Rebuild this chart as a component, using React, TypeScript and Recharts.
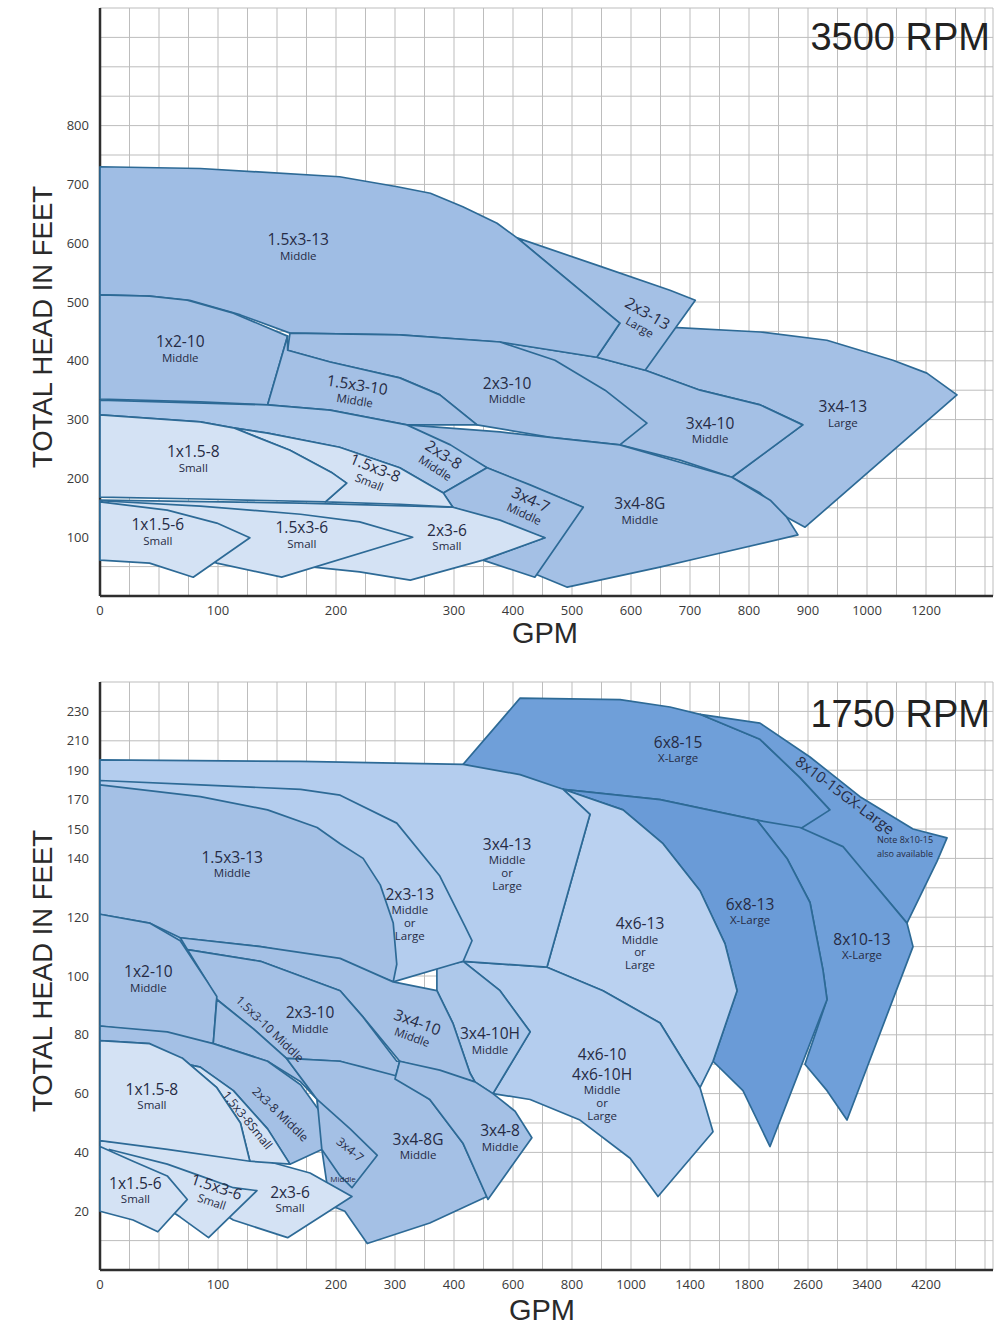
import React from 'react';
import { ScatterChart, Scatter, XAxis, YAxis, CartesianGrid } from 'recharts';

type Pt = [number, number];
interface Lbl { t: string[]; g: number; h: number; a?: number; fs?: number; ss?: number; n?: number }

// ---------- axis tick labels ----------
const topXTickGpm = [0, 100, 200, 300, 400, 500, 600, 700, 800, 900, 1000, 1200];
const topXTickCell = [0, 4, 8, 12, 14, 16, 18, 20, 22, 24, 26, 28];
const topYTickLabels = [100, 200, 300, 400, 500, 600, 700, 800];
const botXTickGpm = [0, 100, 200, 300, 400, 600, 800, 1000, 1400, 1800, 2600, 3400, 4200];
const botXTickCell = [0, 4, 8, 10, 12, 14, 16, 18, 20, 22, 24, 26, 28];
const botYTickFt = [20, 40, 60, 80, 100, 120, 140, 150, 170, 190, 210, 230];
const botYTickCell = [2, 4, 6, 8, 10, 12, 14, 15, 16, 17, 18, 19];

// ---------- 3500 RPM coverage areas (GPM, feet) ----------
const top_3x4_13: Pt[] = [[624,452],[671,457],[819,449],[932,435],[1088,401],[1203,379],[1305,342],[895,117],[864,134],[819,175],[771,202],[891,291],[819,325],[717,350],[624,384]];
const top_3x4_10: Pt[] = [[378,432],[542,406],[624,384],[717,350],[819,325],[891,291],[771,202],[683,231],[581,257]];
const top_2x3_13: Pt[] = [[407,609],[547,561],[666,520],[709,503],[624,384],[542,406],[581,464]];
const top_1_5x3_13: Pt[] = [[0,730],[85,727],[203,713],[252,696],[280,685],[315,662],[373,634],[407,609],[581,464],[542,406],[378,432],[254,444],[161,447],[119,478],[76,503],[42,510],[0,512]];
const top_2x3_10: Pt[] = [[161,447],[254,444],[378,432],[471,401],[556,350],[627,294],[581,257],[463,270],[339,291],[288,342],[254,371],[195,398],[159,418]];
const top_1x2_10: Pt[] = [[0,512],[42,510],[74,503],[113,481],[159,442],[142,325],[85,330],[0,335]];
const top_1_5x3_10: Pt[] = [[159,418],[195,398],[254,371],[288,342],[339,291],[260,291],[195,316],[142,325],[159,442]];
const top_3x4_8g: Pt[] = [[260,291],[378,279],[581,257],[771,202],[836,163],[864,134],[883,104],[717,65],[649,49],[492,15],[412,48],[519,151],[356,218]];
const top_2x3_8: Pt[] = [[0,333],[142,325],[195,316],[260,291],[297,257],[356,218],[291,175],[254,218],[203,253],[142,277],[113,286],[85,296],[0,308]];
const top_3x4_7: Pt[] = [[299,151],[291,175],[356,218],[429,189],[519,151],[437,32],[349,61],[454,99]];
const top_2x3_6: Pt[] = [[0,163],[170,158],[299,151],[378,129],[454,99],[349,61],[263,27],[220,41],[181,49],[170,95],[0,129]];
const top_1_5x3_8: Pt[] = [[113,286],[142,277],[203,253],[254,218],[291,175],[299,151],[254,156],[191,160],[209,192],[197,209],[161,248]];
const top_1x1_5_8: Pt[] = [[0,308],[85,296],[113,286],[161,248],[197,209],[209,192],[191,160],[85,165],[0,168]];
const top_1_5x3_6: Pt[] = [[0,162],[85,153],[170,139],[220,126],[265,100],[154,32],[99,56],[42,95]];
const top_1x1_5_6: Pt[] = [[0,160],[57,146],[99,124],[127,99],[79,32],[42,56],[0,61]];

// ---------- 1750 RPM coverage areas (GPM, feet) ----------
const bot_6x8_15: Pt[] = [[431,194],[624,239],[963,238],[1264,233],[1468,228],[1949,211],[2492,185],[2898,163],[3075,145],[1908,156],[1197,170],[770,177]];
const bot_8x10_15g: Pt[] = [[1468,228],[1949,222],[2627,199],[3305,172],[4024,150],[4485,147],[4349,139],[3942,118],[3441,133],[3075,143],[2492,150],[2898,163],[2492,185],[1949,211]];
const bot_8x10_13: Pt[] = [[1908,156],[2492,151],[3075,144],[3441,133],[3942,118],[4024,110],[3129,51],[2858,61],[2559,70],[2858,92],[2803,102],[2627,125],[2315,140]];
const bot_6x8_13: Pt[] = [[770,177],[1197,170],[1908,156],[2315,140],[2627,125],[2803,102],[2858,92],[2085,42],[1759,61],[1556,71],[1719,95],[1637,111],[1468,129],[1217,145],[973,163]];
const bot_4x6_13: Pt[] = [[770,177],[973,163],[1217,145],[1468,129],[1637,111],[1719,95],[1556,71],[1468,62],[1197,84],[905,95],[715,103],[861,160]];
const bot_4x6_10: Pt[] = [[431,105],[715,103],[905,95],[1197,84],[1468,62],[1556,47],[1183,25],[997,38],[827,51],[658,58],[532,60],[658,81],[556,95]];
const bot_3x4_13: Pt[] = [[0,197],[170,196],[431,194],[624,187],[770,177],[861,160],[715,103],[431,105],[342,101],[170,126],[0,126]];
const bot_3x4_10h: Pt[] = [[371,103],[431,105],[556,95],[658,81],[532,60],[471,64],[454,67],[398,84],[371,95]];
const bot_2x3_13: Pt[] = [[0,183],[85,180],[170,177],[207,173],[303,154],[376,134],[437,117],[461,112],[431,105],[297,98],[0,98]];
const bot_1_5x3_13: Pt[] = [[0,180],[85,172],[142,163],[184,151],[207,145],[246,140],[275,131],[297,118],[303,104],[297,98],[207,105],[136,110],[68,113],[42,118],[0,121]];
const bot_3x4_10: Pt[] = [[68,113],[136,110],[207,106],[297,98],[371,95],[398,84],[454,67],[471,64],[308,71],[246,86],[207,95],[136,105],[74,109]];
const bot_2x3_10: Pt[] = [[74,109],[136,105],[207,95],[246,86],[303,71],[308,71],[300,65],[207,71],[158,72],[130,82],[99,92],[91,98]];
const bot_1x2_10: Pt[] = [[0,121],[42,118],[68,112],[91,98],[99,93],[96,77],[42,81],[0,83]];
const bot_1_5x3_10: Pt[] = [[99,92],[130,82],[158,72],[184,58],[170,64],[142,71],[96,77]];
const bot_3x4_8g: Pt[] = [[158,72],[207,71],[246,69],[303,66],[359,58],[431,43],[512,25],[359,16],[253,9],[215,20],[195,22],[188,41],[184,58]];
const bot_3x4_8: Pt[] = [[300,65],[308,71],[376,68],[471,64],[532,60],[607,54],[664,45],[515,24],[431,43],[359,58]];
const bot_2x3_8: Pt[] = [[0,83],[57,81],[96,77],[142,71],[170,63],[188,53],[188,41],[161,36],[142,48],[113,61],[85,69],[62,71],[42,77],[0,78]];
const bot_3x4_7: Pt[] = [[184,58],[224,48],[270,39],[227,28],[207,32],[188,41]];
const bot_2x3_6: Pt[] = [[0,44],[85,41],[142,37],[178,33],[227,25],[159,11],[113,17],[85,24],[0,31]];
const bot_1_5x3_8: Pt[] = [[62,71],[85,69],[113,61],[142,48],[161,36],[127,37],[119,50],[99,62],[70,72]];
const bot_1x1_5_8: Pt[] = [[0,78],[42,77],[70,72],[99,62],[119,50],[127,37],[57,41],[0,44]];
const bot_1_5x3_6: Pt[] = [[8,41],[57,36],[85,32],[113,28],[133,27],[92,11],[68,18],[34,27]];
const bot_1x1_5_6: Pt[] = [[0,42],[28,37],[57,32],[74,24],[49,13],[28,17],[0,20]];

// ---------- area labels (GPM, feet, angle) ----------
const topLabels: Lbl[] = [
  { t: ['1.5x3-13', 'Middle'], g: 168, h: 594 },
  { t: ['2x3-13', 'Large'], g: 622, h: 470, a: 30 },
  { t: ['1x2-10', 'Middle'], g: 68, h: 420 },
  { t: ['1.5x3-10', 'Middle'], g: 217, h: 347, a: 9 },
  { t: ['2x3-10', 'Middle'], g: 390, h: 350 },
  { t: ['3x4-10', 'Middle'], g: 734, h: 282 },
  { t: ['3x4-13', 'Large'], g: 959, h: 310 },
  { t: ['1x1.5-8', 'Small'], g: 79, h: 233 },
  { t: ['2x3-8', 'Middle'], g: 288, h: 230, a: 33 },
  { t: ['1.5x3-8', 'Small'], g: 231, h: 207, a: 22 },
  { t: ['3x4-7', 'Middle'], g: 425, h: 153, a: 25 },
  { t: ['3x4-8G', 'Middle'], g: 615, h: 145 },
  { t: ['1x1.5-6', 'Small'], g: 49, h: 109 },
  { t: ['1.5x3-6', 'Small'], g: 171, h: 104 },
  { t: ['2x3-6', 'Small'], g: 294, h: 100 },
];
const botLabels: Lbl[] = [
  { t: ['6x8-15', 'X-Large'], g: 1319, h: 204 },
  { t: ['8x10-15GX-Large'], g: 3102, h: 173, a: 37, fs: 15 },
  { t: ['Note 8x10-15', 'also available'], g: 3915, h: 144, fs: 9, ss: 9 },
  { t: ['6x8-13', 'X-Large'], g: 1814, h: 122 },
  { t: ['8x10-13', 'X-Large'], g: 3332, h: 110 },
  { t: ['3x4-13', 'Middle', 'or', 'Large'], g: 580, h: 138 },
  { t: ['2x3-13', 'Middle', 'or', 'Large'], g: 325, h: 121 },
  { t: ['4x6-13', 'Middle', 'or', 'Large'], g: 1061, h: 111 },
  { t: ['1.5x3-13', 'Middle'], g: 112, h: 138 },
  { t: ['1x2-10', 'Middle'], g: 41, h: 99 },
  { t: ['2x3-10', 'Middle'], g: 178, h: 85 },
  { t: ['3x4-10', 'Middle'], g: 334, h: 82, a: 20 },
  { t: ['3x4-10H', 'Middle'], g: 522, h: 78 },
  { t: ['4x6-10', '4x6-10H', 'Middle', 'or', 'Large'], g: 902, h: 63, n: 2 },
  { t: ['1.5x3-10 Middle'], g: 144, h: 82, a: 44, fs: 12 },
  { t: ['2x3-8 Middle'], g: 153, h: 53, a: 44, fs: 12 },
  { t: ['1.5x3-8Small'], g: 125, h: 51, a: 51, fs: 12 },
  { t: ['1x1.5-8', 'Small'], g: 44, h: 59 },
  { t: ['3x4-7'], g: 224, h: 41, a: 40, fs: 12 },
  { t: ['Middle'], g: 212, h: 31, fs: 8 },
  { t: ['3x4-8G', 'Middle'], g: 339, h: 42 },
  { t: ['3x4-8', 'Middle'], g: 556, h: 45 },
  { t: ['1x1.5-6', 'Small'], g: 30, h: 27 },
  { t: ['1.5x3-6', 'Small'], g: 97, h: 26, a: 18 },
  { t: ['2x3-6', 'Small'], g: 161, h: 24 },
];

// ---------- styling ----------
const FONT = '"Open Sans", "Noto Sans", sans-serif';
const TITLE_FONT = '"Liberation Sans", Arial, sans-serif';
const STROKE = '#2d6a96';
const MED = '#a4c0e5';
const MED2 = '#adc8ea';
const MED3 = '#b4cdee';
const LIGHT = '#d4e2f4';
const PALE = '#bad1f0';
const DARK = '#6a9bd7';
const DARK2 = '#6f9fd9';

const topSeries = [
  { pts: top_3x4_13, fill: MED },
  { pts: top_3x4_10, fill: MED },
  { pts: top_2x3_13, fill: MED },
  { pts: top_1_5x3_13, fill: '#9fbde4' },
  { pts: top_2x3_10, fill: MED },
  { pts: top_1x2_10, fill: MED },
  { pts: top_1_5x3_10, fill: MED },
  { pts: top_3x4_8g, fill: MED },
  { pts: top_2x3_8, fill: MED2 },
  { pts: top_3x4_7, fill: MED },
  { pts: top_2x3_6, fill: LIGHT },
  { pts: top_1_5x3_8, fill: LIGHT },
  { pts: top_1x1_5_8, fill: LIGHT },
  { pts: top_1_5x3_6, fill: LIGHT },
  { pts: top_1x1_5_6, fill: LIGHT },
];
const botSeries = [
  { pts: bot_6x8_15, fill: DARK2 },
  { pts: bot_8x10_15g, fill: DARK2 },
  { pts: bot_8x10_13, fill: DARK2 },
  { pts: bot_6x8_13, fill: DARK },
  { pts: bot_4x6_13, fill: PALE },
  { pts: bot_4x6_10, fill: MED3 },
  { pts: bot_3x4_13, fill: MED3 },
  { pts: bot_3x4_10h, fill: MED2 },
  { pts: bot_2x3_13, fill: MED3 },
  { pts: bot_1_5x3_13, fill: MED },
  { pts: bot_3x4_10, fill: MED },
  { pts: bot_2x3_10, fill: MED },
  { pts: bot_1x2_10, fill: MED },
  { pts: bot_1_5x3_10, fill: MED },
  { pts: bot_3x4_8g, fill: MED },
  { pts: bot_3x4_8, fill: MED },
  { pts: bot_2x3_8, fill: MED },
  { pts: bot_3x4_7, fill: MED },
  { pts: bot_2x3_6, fill: LIGHT },
  { pts: bot_1_5x3_8, fill: LIGHT },
  { pts: bot_1x1_5_8, fill: LIGHT },
  { pts: bot_1_5x3_6, fill: LIGHT },
  { pts: bot_1x1_5_6, fill: LIGHT },
];

// piecewise-linear axis transform following the printed tick labels
function interp(v: number, xs: number[], ys: number[]) {
  let i = 0;
  while (i < xs.length - 2 && v > xs[i + 1]) i++;
  const t = (v - xs[i]) / (xs[i + 1] - xs[i]);
  return ys[i] + t * (ys[i + 1] - ys[i]);
}
const topX = (g: number) => interp(g, topXTickGpm, topXTickCell);
const botX = (g: number) => interp(g, botXTickGpm, botXTickCell);
const botYFt = [0, ...botYTickFt];
const botYCell = [0, ...botYTickCell];
const botY = (h: number) => interp(h, botYFt, botYCell);

const cellTicks = Array.from({ length: 31 }, (_, i) => i);
const topYTicks = Array.from({ length: 21 }, (_, i) => i * 50);
const botYTicks = Array.from({ length: 21 }, (_, i) => i);

const fmtFrom = (cells: number[], labels: number[]) => (v: number) => {
  const i = cells.indexOf(v);
  return i >= 0 ? String(labels[i]) : '';
};

const NoDot = () => null;

function LabelShape(props: any) {
  const { cx, cy, payload } = props;
  const lines: string[] = payload.t;
  const fs = payload.fs ?? 15.5;
  const ss = payload.ss ?? 11.5;
  const n = payload.n ?? 1;
  const ys: number[] = [];
  let y = 0;
  lines.forEach((_, i) => {
    if (i > 0) y += i < n ? fs + 4 : i === n ? Math.max(14, ss + 3) : ss + 1.5;
    ys.push(y);
  });
  const off = -ys[ys.length - 1] / 2 + fs * 0.36;
  return (
    <g transform={`translate(${cx},${cy}) rotate(${payload.a ?? 0})`}>
      {lines.map((s, i) => (
        <text key={i} x={0} y={ys[i] + off} textAnchor="middle" fontFamily={FONT}
          fontSize={i < n ? fs : ss} fill="#262b44">{s}</text>
      ))}
    </g>
  );
}

const tickStyle = { fontSize: 13, fill: '#3a3a3a', fontFamily: FONT };
const axisLineStyle = { stroke: '#2e2e2e', strokeWidth: 2.5 };

function App() {
  const topLabelData = topLabels.map((l) => ({ ...l, x: topX(l.g), y: l.h }));
  const botLabelData = botLabels.map((l) => ({ ...l, x: botX(l.g), y: botY(l.h) }));
  return (
    <div style={{ position: 'relative', width: 999, height: 1327, background: '#fff', overflow: 'hidden' }}>
      <style>{'body{margin:0;background:#fff}'}</style>
      <div style={{ position: 'absolute', left: 0, top: 0 }}>
        <ScatterChart width={999} height={660} margin={{ top: 8, right: 6, bottom: 34, left: 40 }}>
          <CartesianGrid stroke="#bdbdbd" strokeWidth={1} />
          <XAxis type="number" dataKey="x" domain={[0, 893 / 29.5]} ticks={cellTicks} interval={0}
            tickFormatter={fmtFrom(topXTickCell, topXTickGpm)} tickLine={false} tickSize={0} tickMargin={10}
            axisLine={axisLineStyle} tick={tickStyle} height={30} />
          <YAxis type="number" dataKey="y" domain={[0, 1000]} ticks={topYTicks} interval={0}
            tickFormatter={(v: number) => (topYTickLabels.includes(v) ? String(v) : '')}
            tickLine={false} tickSize={0} tickMargin={11} axisLine={axisLineStyle} tick={tickStyle} width={60} />
          {topSeries.map((s, i) => (
            <Scatter key={i} data={s.pts.map(([g, h]) => ({ x: topX(g), y: h }))} shape={NoDot}
              line={{ stroke: STROKE, strokeWidth: 1.7, fill: s.fill, strokeLinejoin: 'round' }}
              lineType="joint" lineJointType="linearClosed" isAnimationActive={false} legendType="none" />
          ))}
          <Scatter data={topLabelData} shape={LabelShape} isAnimationActive={false} legendType="none" />
        </ScatterChart>
      </div>
      <div style={{ position: 'absolute', left: 0, top: 674 }}>
        <ScatterChart width={999} height={653} margin={{ top: 8, right: 6, bottom: 27, left: 40 }}>
          <CartesianGrid stroke="#bdbdbd" strokeWidth={1} />
          <XAxis type="number" dataKey="x" domain={[0, 893 / 29.5]} ticks={cellTicks} interval={0}
            tickFormatter={fmtFrom(botXTickCell, botXTickGpm)} tickLine={false} tickSize={0} tickMargin={10}
            axisLine={axisLineStyle} tick={tickStyle} height={30} />
          <YAxis type="number" dataKey="y" domain={[0, 20]} ticks={botYTicks} interval={0}
            tickFormatter={fmtFrom(botYTickCell, botYTickFt)}
            tickLine={false} tickSize={0} tickMargin={11} axisLine={axisLineStyle} tick={tickStyle} width={60} />
          {botSeries.map((s, i) => (
            <Scatter key={i} data={s.pts.map(([g, h]) => ({ x: botX(g), y: botY(h) }))} shape={NoDot}
              line={{ stroke: STROKE, strokeWidth: 1.7, fill: s.fill, strokeLinejoin: 'round' }}
              lineType="joint" lineJointType="linearClosed" isAnimationActive={false} legendType="none" />
          ))}
          <Scatter data={botLabelData} shape={LabelShape} isAnimationActive={false} legendType="none" />
        </ScatterChart>
      </div>

      <div style={{ position: 'absolute', right: 9, top: 18, fontFamily: TITLE_FONT, fontSize: 38, lineHeight: '38px', color: '#222' }}>3500 RPM</div>
      <div style={{ position: 'absolute', right: 9, top: 695, fontFamily: TITLE_FONT, fontSize: 38, lineHeight: '38px', color: '#222' }}>1750 RPM</div>
      <div style={{ position: 'absolute', left: 545, top: 622, transform: 'translateX(-50%)', fontFamily: TITLE_FONT, fontSize: 29, lineHeight: '22px', color: '#2a2a2a' }}>GPM</div>
      <div style={{ position: 'absolute', left: 542, top: 1299, transform: 'translateX(-50%)', fontFamily: TITLE_FONT, fontSize: 29, lineHeight: '22px', color: '#2a2a2a' }}>GPM</div>
      <div style={{ position: 'absolute', left: 43, top: 327, transform: 'translate(-50%,-50%) rotate(-90deg)', whiteSpace: 'nowrap', fontFamily: TITLE_FONT, fontSize: 27.5, lineHeight: '27.5px', color: '#2a2a2a' }}>TOTAL HEAD IN FEET</div>
      <div style={{ position: 'absolute', left: 43, top: 971, transform: 'translate(-50%,-50%) rotate(-90deg)', whiteSpace: 'nowrap', fontFamily: TITLE_FONT, fontSize: 27.5, lineHeight: '27.5px', color: '#2a2a2a' }}>TOTAL HEAD IN FEET</div>
    </div>
  );
}

export default App;
